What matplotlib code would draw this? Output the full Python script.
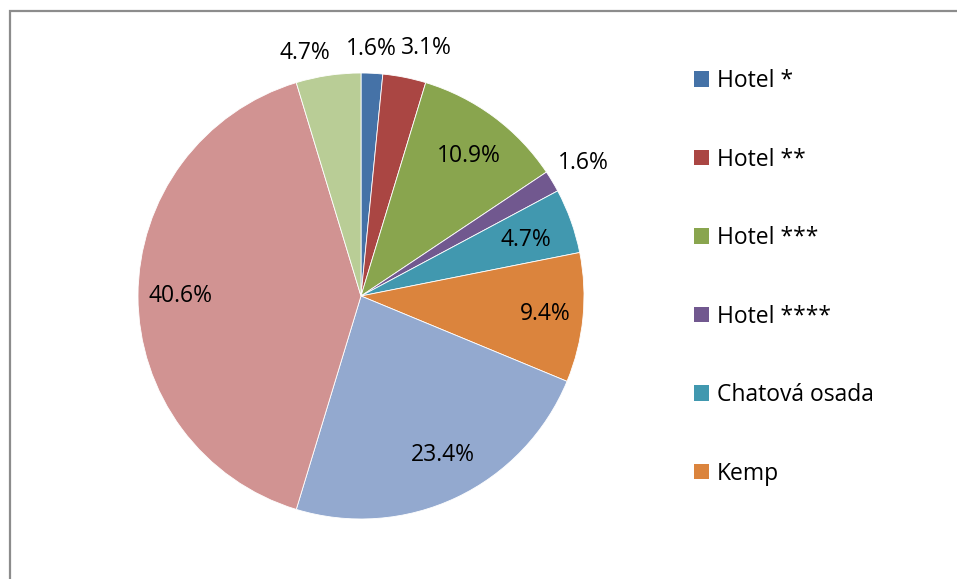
"""
plot.py
-------
Pie chart of accommodation types (Hotel *, Hotel **, ..., Kemp) with Excel-like styling.
Saves out.png (957x579).
"""

import numpy as np
import matplotlib.pyplot as plt
from matplotlib.patches import Patch, Rectangle

# ---------- Data ----------
categories = ["Hotel *", "Hotel **", "Hotel ***", "Hotel ****",
              "Chatová osada", "Kemp", "Penzion", "Soukromí", "Jiné"]
counts = [1, 2, 7, 1, 3, 6, 15, 26, 3]
legend_shown = 6  # only first six entries fit in the (cropped) legend
colors = ["#4572A7", "#AA4643", "#89A54E", "#71588F", "#4198AF",
          "#DB843D", "#93A9CF", "#D19392", "#B9CD96"]

# label placement: distance (in radii) and angle nudge (deg) per slice
label_dist = [1.11, 1.15, 0.79, 1.16, 0.78, 0.83, 0.80, 0.81, 1.12]
label_nudge = [0.5, -3.5, -1.0, 0.0, -1.0, 0.0, 2.0, 0.0, 4.5]

W, H = 957, 579
CX, CY, R = 361, 296, 223  # pie centre / radius in pixels (from top-left)

plt.rcParams["font.family"] = ["Open Sans", "DejaVu Sans"]
FS = 16.5

fig = plt.figure(figsize=(W / 100, H / 100), dpi=100)

# axes placed so that unit radius == R pixels
L = 1.3
s = R * L
ax = fig.add_axes([(CX - s) / W, (H - CY - s) / H, 2 * s / W, 2 * s / H])

wedges, _ = ax.pie(counts, colors=colors, startangle=90, counterclock=False,
                   radius=1.0, wedgeprops=dict(edgecolor="white", linewidth=0.6))
# pie() resets the limits, so set them afterwards
ax.set_xlim(-L, L)
ax.set_ylim(-L, L)
ax.set_aspect("equal")
ax.axis("off")

total = float(sum(counts))
for i, w in enumerate(wedges):
    ang = np.deg2rad((w.theta1 + w.theta2) / 2.0 + label_nudge[i])
    d = label_dist[i]
    ax.text(d * np.cos(ang), d * np.sin(ang),
            f"{counts[i] / total * 100:.1f}%",
            ha="center", va="center", fontsize=FS, color="black")

# chart area frame (right/bottom edges fall outside the crop)
fig.patches.append(Rectangle((9.5 / W, -0.1), 1.2, 1 - 10.5 / H + 0.1,
                             transform=fig.transFigure, fill=False,
                             edgecolor="#8c8c8c", linewidth=1.6, clip_on=False))

handles = [Patch(facecolor=colors[i], edgecolor="none") for i in range(legend_shown)]
fig.legend(handles, categories[:legend_shown], loc="upper left",
           bbox_to_anchor=(694 / W, 1 - 69 / H), frameon=False, fontsize=FS,
           handlelength=0.65, handleheight=0.65, handletextpad=0.35,
           labelspacing=2.38, borderpad=0, borderaxespad=0)

plt.savefig("out.png", dpi=100)
